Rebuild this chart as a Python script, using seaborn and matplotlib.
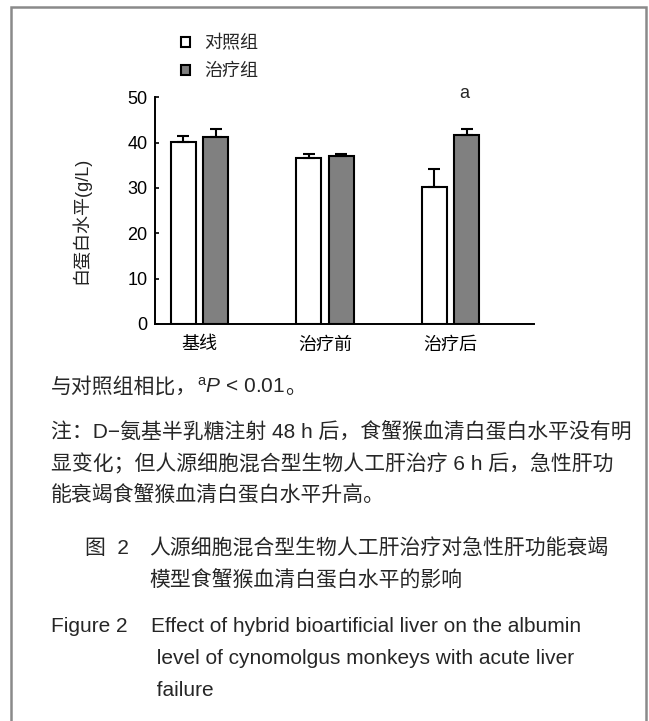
import matplotlib
matplotlib.use("Agg")
import matplotlib.pyplot as plt
from matplotlib.patches import Rectangle
import pandas as pd
import seaborn as sns

# Serum albumin (g/L), mean and upper error
stages = ["基线", "治疗前", "治疗后"]
groups = ["对照组", "治疗组"]
control_mean = [40.2, 36.7, 30.3]
control_err = [1.3, 0.9, 3.8]
treated_mean = [41.3, 37.0, 41.6]
treated_err = [1.6, 0.6, 1.4]
sig_marks = ["", "", "a"]
y_ticks = [0, 10, 20, 30, 40, 50]
y_label = "白蛋白水平(g/L)"

footnote_parts = ["与对照组相比，", r"$^{\mathrm{a}}P$ < 0.01", "。"]
note_lines = [
    "注：D−氨基半乳糖注射 48 h 后，食蟹猴血清白蛋白水平没有明",
    "显变化；但人源细胞混合型生物人工肝治疗 6 h 后，急性肝功",
    "能衰竭食蟹猴血清白蛋白水平升高。",
]
cn_title_tag = "图  2"
cn_title_lines = [
    "人源细胞混合型生物人工肝治疗对急性肝功能衰竭",
    "模型食蟹猴血清白蛋白水平的影响",
]
en_title_tag = "Figure 2"
en_title_lines = [
    "Effect of hybrid bioartificial liver on the albumin",
    " level of cynomolgus monkeys with acute liver",
    " failure",
]

df = pd.DataFrame({
    "stage": stages * 2,
    "group": [groups[0]] * 3 + [groups[1]] * 3,
    "value": control_mean + treated_mean,
})

sns.set_theme(style="white")
plt.rcParams["font.family"] = ["Liberation Sans", "Noto Sans CJK SC"]
plt.rcParams["mathtext.fontset"] = "custom"
plt.rcParams["mathtext.rm"] = "Liberation Sans"
plt.rcParams["mathtext.it"] = "Liberation Sans:italic"

W, H = 649, 721
fig = plt.figure(figsize=(W / 100, H / 100), dpi=100)
fig.patch.set_facecolor("white")


def fx(x):
    return x / W


def fy(y):
    return 1 - y / H


ax = fig.add_axes([fx(155), fy(324), (534 - 155) / W, (324 - 97.3) / H])
sns.barplot(data=df, x="stage", y="value", hue="group", order=stages,
            hue_order=groups, palette=["white", "#808080"], saturation=1,
            edgecolor="black", linewidth=1.5, width=0.52, gap=0.23,
            errorbar=None, ax=ax)

for cont, means, errs in zip(ax.containers, [control_mean, treated_mean],
                             [control_err, treated_err]):
    for bar, m, e in zip(cont, means, errs):
        xc = bar.get_x() + bar.get_width() / 2
        ax.errorbar(xc, m, yerr=[[0], [e]], fmt="none", ecolor="black",
                    elinewidth=1.5, capsize=4.3, capthick=1.5, zorder=1)

for bar, mark in zip(ax.containers[1], sig_marks):
    if mark:
        ax.text(bar.get_x() + bar.get_width() / 2 - 0.02, 50.8, mark,
                ha="center", va="center", fontsize=13, clip_on=False)

ax.set_xlim(-0.355, 2.665)
ax.set_ylim(0, 50)
ax.set_yticks(y_ticks)
ax.set_xlabel("")
ax.set_ylabel("")
for side in ("top", "right"):
    ax.spines[side].set_visible(False)
for side in ("left", "bottom"):
    ax.spines[side].set_color("black")
    ax.spines[side].set_linewidth(1.4)
ax.tick_params(axis="y", direction="in", length=3, width=1.2, pad=5.5,
               labelsize=13, left=True, colors="black")
ax.tick_params(axis="x", length=0, pad=9, labelsize=13, colors="black")

handles, labels = ax.get_legend_handles_labels()
ax.legend(handles, labels, loc="upper left",
          bbox_to_anchor=(fx(181.5), fy(35)), bbox_transform=fig.transFigure,
          frameon=False, fontsize=13, handlelength=0.48, handleheight=0.48,
          handletextpad=0.8, labelspacing=0.62, borderpad=0, borderaxespad=0)

fig.text(fx(81), fy(220), y_label, rotation=90, ha="center", va="center",
         fontsize=13, color="#222222")

cap_size = 15

# Footnote made of pieces set on one baseline, each after the previous one
renderer = fig.canvas.get_renderer()
x_cursor = fx(51)
for part in footnote_parts:
    t = fig.text(x_cursor, fy(393), part, ha="left", va="baseline",
                 fontsize=cap_size)
    bb = t.get_window_extent(renderer=renderer)
    x_cursor = bb.x1 / W

for i, line in enumerate(note_lines):
    fig.text(fx(51), fy(432 + i * 31.5), line, ha="left", va="center",
             fontsize=cap_size)

fig.text(fx(85), fy(548), cn_title_tag, ha="left", va="center",
         fontsize=cap_size)
for i, line in enumerate(cn_title_lines):
    fig.text(fx(149), fy(548 + i * 32), line, ha="left", va="center",
             fontsize=cap_size)

fig.text(fx(51), fy(627), en_title_tag, ha="left", va="center",
         fontsize=cap_size)
for i, line in enumerate(en_title_lines):
    fig.text(fx(151), fy(627 + i * 31.5), line, ha="left", va="center",
             fontsize=cap_size)

# Page frame, open at the bottom edge
fig.add_artist(Rectangle((fx(11), fy(760)), (646 - 11) / W, (760 - 7) / H,
                         transform=fig.transFigure, fill=False,
                         edgecolor="#8a8a8a", linewidth=1.8, clip_on=False))

fig.savefig("out.png", dpi=100, facecolor="white")
